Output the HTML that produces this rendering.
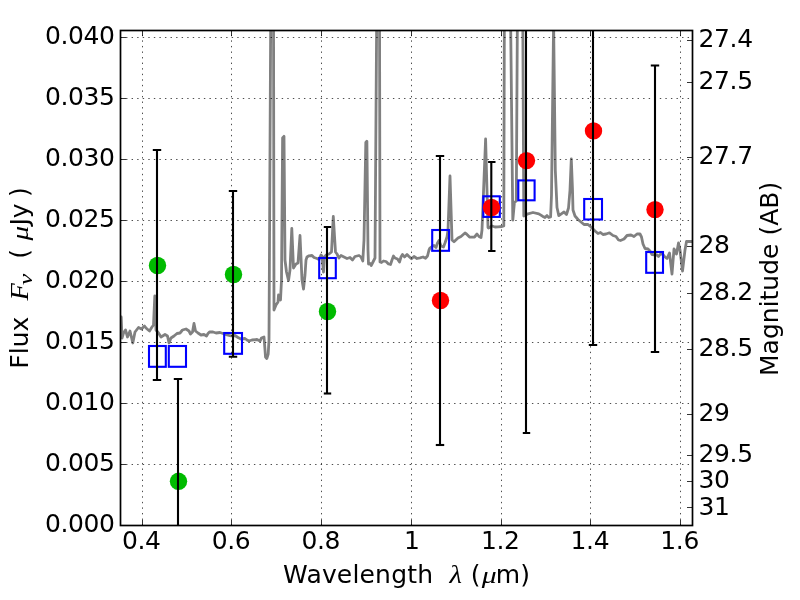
<!DOCTYPE html>
<html lang="en"><head><meta charset="utf-8"><title>Flux vs Wavelength</title>
<style>html,body{margin:0;padding:0;background:#fff;overflow:hidden}svg{display:block}text{font-family:"DejaVu Sans", "Liberation Sans", sans-serif;font-size:25px;fill:#000}.m{font-family:"Liberation Serif", "DejaVu Serif", serif;font-style:italic}</style></head><body>
<svg width="800" height="600" viewBox="0 0 800 600">
<rect width="800" height="600" fill="#fff"/>
<defs><clipPath id="ax"><rect x="120.5" y="30.5" width="572.0" height="495.0"/></clipPath></defs>
<g clip-path="url(#ax)">
<polyline points="120.5,317.0 121.2,317.0 122.0,338.0 123.5,333.0 125.5,330.0 127.5,337.0 130.0,331.0 132.8,343.0 135.0,332.0 138.5,327.5 141.5,329.0 144.5,326.0 146.5,328.5 149.5,331.0 152.0,327.0 153.5,325.0 154.8,296.0 156.0,330.0 158.5,333.0 161.0,337.0 165.0,334.5 167.5,336.0 169.0,343.0 171.0,338.0 174.0,336.0 177.0,333.5 180.0,333.0 182.5,330.0 186.0,329.0 189.0,331.0 190.5,334.0 192.5,332.0 194.0,323.5 195.5,331.0 198.0,333.0 201.0,335.0 204.0,334.5 206.5,336.0 208.0,333.5 209.5,332.0 213.0,332.0 216.0,333.0 220.0,332.5 223.0,333.5 227.0,335.0 231.0,335.8 235.0,335.5 238.0,337.5 241.0,339.0 245.0,338.5 247.0,340.0 249.0,341.0 252.0,340.0 257.0,339.5 260.0,341.0 261.5,338.0 264.0,337.0 265.0,350.0 265.5,357.0 266.8,358.5 268.2,354.0 269.0,340.0 270.8,0.0 272.2,-300.0 273.5,0.0 274.0,310.0 276.0,305.0 278.0,302.0 278.5,295.0 280.5,300.0 281.5,280.0 282.6,138.0 284.0,136.3 285.0,260.0 286.5,272.0 288.5,280.5 290.0,270.0 291.8,228.5 293.5,268.0 296.0,264.0 298.0,263.0 300.0,235.5 302.0,280.0 303.5,289.0 305.0,275.0 306.0,260.0 307.0,257.0 309.0,255.8 312.0,255.5 314.0,257.5 317.0,258.5 319.0,259.5 321.0,255.0 322.0,256.0 323.5,272.0 324.5,257.0 326.0,255.0 329.0,254.0 331.5,252.0 333.3,216.5 335.5,252.0 337.0,254.0 339.0,258.0 341.0,255.5 344.0,257.0 347.0,258.5 350.0,257.5 352.5,260.0 355.0,256.5 359.0,255.5 361.0,257.0 362.8,261.0 364.0,240.0 365.8,142.5 366.9,141.2 368.0,250.0 368.5,264.0 370.0,263.5 371.2,265.5 373.0,262.0 375.0,258.0 376.8,0.0 378.1,-300.0 379.5,0.0 380.0,262.0 381.5,262.5 383.5,261.0 386.0,261.5 388.5,264.0 390.5,264.5 392.0,260.0 393.5,256.0 395.0,258.0 397.5,259.0 399.5,262.0 401.0,257.0 402.5,254.5 404.5,257.0 407.0,254.5 409.0,256.5 411.5,258.8 414.0,256.5 417.0,258.5 420.0,257.8 423.0,257.0 425.5,258.2 427.5,256.0 429.0,250.0 430.0,248.0 432.0,246.5 434.0,245.5 436.0,247.5 437.5,243.0 439.0,240.5 441.0,246.0 443.5,247.0 445.0,243.0 447.0,237.0 448.0,230.0 450.0,176.0 452.0,240.0 454.0,241.7 458.0,238.0 461.0,236.5 465.0,233.0 466.5,234.0 469.5,237.0 472.0,237.2 474.5,237.0 477.0,234.0 479.0,236.5 481.0,237.5 482.0,230.0 485.6,139.0 488.0,227.5 488.5,228.0 492.0,226.0 495.0,227.0 498.0,226.8 502.0,226.5 503.8,226.0 504.4,0.0 507.4,-400.0 510.4,0.0 512.8,220.0 514.4,202.5 516.3,201.0 517.5,0.0 520.0,-400.0 522.7,0.0 523.8,216.0 528.0,213.8 533.0,212.5 538.8,213.8 542.5,216.2 545.0,217.5 547.0,215.6 548.8,217.5 550.6,217.0 551.5,195.0 553.6,22.0 555.3,170.0 557.0,207.5 558.8,215.6 561.3,213.8 564.0,212.0 566.5,214.5 568.5,208.0 570.0,190.0 571.3,159.0 572.5,190.0 573.0,210.0 575.0,216.0 578.0,219.5 581.0,222.0 584.0,224.5 588.0,224.5 591.0,227.0 593.0,229.0 595.0,231.0 598.0,233.5 600.5,232.5 603.0,234.5 606.0,234.0 609.5,232.8 613.0,235.5 616.0,236.5 618.5,240.0 620.5,240.5 624.0,239.0 627.0,235.5 631.0,235.0 634.0,236.5 637.0,234.0 640.0,234.0 641.5,237.0 643.0,244.0 645.0,248.5 648.0,249.0 650.0,251.0 652.0,254.5 657.0,255.0 658.5,256.5 660.5,254.0 663.0,254.5 665.0,257.0 667.0,258.5 669.5,253.0 672.0,274.0 674.0,249.0 676.5,254.0 678.5,243.0 680.0,250.0 682.5,271.0 685.0,250.0 686.5,241.5 693.0,241.5" fill="none" stroke="#808080" stroke-width="2.8" stroke-linejoin="round" stroke-linecap="butt"/>
</g>
<g stroke="#000" stroke-width="0.7" stroke-dasharray="1.4 4.16" fill="none">
<line x1="142.50" y1="525.5" x2="142.50" y2="30.5"/>
<line x1="231.50" y1="525.5" x2="231.50" y2="30.5"/>
<line x1="321.50" y1="525.5" x2="321.50" y2="30.5"/>
<line x1="411.50" y1="525.5" x2="411.50" y2="30.5"/>
<line x1="501.50" y1="525.5" x2="501.50" y2="30.5"/>
<line x1="590.50" y1="525.5" x2="590.50" y2="30.5"/>
<line x1="680.50" y1="525.5" x2="680.50" y2="30.5"/>
<line x1="120.5" y1="464.50" x2="692.5" y2="464.50"/>
<line x1="120.5" y1="403.50" x2="692.5" y2="403.50"/>
<line x1="120.5" y1="342.50" x2="692.5" y2="342.50"/>
<line x1="120.5" y1="281.50" x2="692.5" y2="281.50"/>
<line x1="120.5" y1="220.50" x2="692.5" y2="220.50"/>
<line x1="120.5" y1="159.50" x2="692.5" y2="159.50"/>
<line x1="120.5" y1="98.50" x2="692.5" y2="98.50"/>
<line x1="120.5" y1="37.50" x2="692.5" y2="37.50"/>
</g>
<g clip-path="url(#ax)">
<rect x="149.0" y="346.0" width="16.8" height="20.8" fill="none" stroke="#0000ff" stroke-width="2.1"/>
<rect x="168.8" y="346.0" width="17.2" height="20.8" fill="none" stroke="#0000ff" stroke-width="2.1"/>
<rect x="224.2" y="333.0" width="17.8" height="20.8" fill="none" stroke="#0000ff" stroke-width="2.1"/>
<rect x="319.2" y="258.0" width="16.6" height="20.2" fill="none" stroke="#0000ff" stroke-width="2.1"/>
<rect x="432.2" y="230.0" width="16.8" height="20.8" fill="none" stroke="#0000ff" stroke-width="2.1"/>
<rect x="483.3" y="196.3" width="16.5" height="20.6" fill="none" stroke="#0000ff" stroke-width="2.1"/>
<rect x="518.3" y="180.4" width="16.3" height="19.9" fill="none" stroke="#0000ff" stroke-width="2.1"/>
<rect x="584.2" y="199.0" width="17.8" height="20.5" fill="none" stroke="#0000ff" stroke-width="2.1"/>
<rect x="646.2" y="252.0" width="16.8" height="20.8" fill="none" stroke="#0000ff" stroke-width="2.1"/>
<circle cx="157.5" cy="265.5" r="8.7" fill="#00bb00"/>
<circle cx="178.5" cy="481.3" r="8.7" fill="#00bb00"/>
<circle cx="233.5" cy="274.5" r="8.7" fill="#00bb00"/>
<circle cx="327.5" cy="311.5" r="8.7" fill="#00bb00"/>
<circle cx="440.5" cy="300.5" r="8.7" fill="#ff0000"/>
<circle cx="491.5" cy="207.5" r="8.7" fill="#ff0000"/>
<circle cx="526.5" cy="160.6" r="8.7" fill="#ff0000"/>
<circle cx="593.5" cy="130.9" r="8.7" fill="#ff0000"/>
<circle cx="655.0" cy="209.6" r="8.7" fill="#ff0000"/>
<line x1="157.0" y1="150.0" x2="157.0" y2="380.0" stroke="#000" stroke-width="2.1"/>
<line x1="152.8" y1="150.0" x2="161.2" y2="150.0" stroke="#000" stroke-width="2.1"/>
<line x1="152.8" y1="380.0" x2="161.2" y2="380.0" stroke="#000" stroke-width="2.1"/>
<line x1="178.0" y1="379.0" x2="178.0" y2="600.0" stroke="#000" stroke-width="2.1"/>
<line x1="173.8" y1="379.0" x2="182.2" y2="379.0" stroke="#000" stroke-width="2.1"/>
<line x1="173.8" y1="600.0" x2="182.2" y2="600.0" stroke="#000" stroke-width="2.1"/>
<line x1="233.0" y1="191.0" x2="233.0" y2="356.8" stroke="#000" stroke-width="2.1"/>
<line x1="228.8" y1="191.0" x2="237.2" y2="191.0" stroke="#000" stroke-width="2.1"/>
<line x1="228.8" y1="356.8" x2="237.2" y2="356.8" stroke="#000" stroke-width="2.1"/>
<line x1="327.0" y1="227.0" x2="327.0" y2="393.5" stroke="#000" stroke-width="2.1"/>
<line x1="323.8" y1="227.0" x2="331.2" y2="227.0" stroke="#000" stroke-width="2.1"/>
<line x1="323.8" y1="393.5" x2="331.2" y2="393.5" stroke="#000" stroke-width="2.1"/>
<line x1="440.0" y1="156.0" x2="440.0" y2="445.0" stroke="#000" stroke-width="2.1"/>
<line x1="435.8" y1="156.0" x2="444.2" y2="156.0" stroke="#000" stroke-width="2.1"/>
<line x1="435.8" y1="445.0" x2="444.2" y2="445.0" stroke="#000" stroke-width="2.1"/>
<line x1="491.3" y1="162.0" x2="491.3" y2="251.0" stroke="#000" stroke-width="2.1"/>
<line x1="488.1" y1="162.0" x2="495.5" y2="162.0" stroke="#000" stroke-width="2.1"/>
<line x1="488.1" y1="251.0" x2="495.5" y2="251.0" stroke="#000" stroke-width="2.1"/>
<line x1="526.0" y1="-50.0" x2="526.0" y2="433.0" stroke="#000" stroke-width="2.1"/>
<line x1="522.8" y1="-50.0" x2="530.2" y2="-50.0" stroke="#000" stroke-width="2.1"/>
<line x1="522.8" y1="433.0" x2="530.2" y2="433.0" stroke="#000" stroke-width="2.1"/>
<line x1="593.0" y1="-50.0" x2="593.0" y2="345.0" stroke="#000" stroke-width="2.1"/>
<line x1="588.8" y1="-50.0" x2="597.2" y2="-50.0" stroke="#000" stroke-width="2.1"/>
<line x1="588.8" y1="345.0" x2="597.2" y2="345.0" stroke="#000" stroke-width="2.1"/>
<line x1="655.0" y1="65.5" x2="655.0" y2="352.0" stroke="#000" stroke-width="2.1"/>
<line x1="650.8" y1="65.5" x2="659.2" y2="65.5" stroke="#000" stroke-width="2.1"/>
<line x1="650.8" y1="352.0" x2="659.2" y2="352.0" stroke="#000" stroke-width="2.1"/>
</g>
<g stroke="#000" stroke-width="0.8" fill="none">
<line x1="142.50" y1="525.5" x2="142.50" y2="520.0"/>
<line x1="142.50" y1="30.5" x2="142.50" y2="36.0"/>
<line x1="231.50" y1="525.5" x2="231.50" y2="520.0"/>
<line x1="231.50" y1="30.5" x2="231.50" y2="36.0"/>
<line x1="321.50" y1="525.5" x2="321.50" y2="520.0"/>
<line x1="321.50" y1="30.5" x2="321.50" y2="36.0"/>
<line x1="411.50" y1="525.5" x2="411.50" y2="520.0"/>
<line x1="411.50" y1="30.5" x2="411.50" y2="36.0"/>
<line x1="501.50" y1="525.5" x2="501.50" y2="520.0"/>
<line x1="501.50" y1="30.5" x2="501.50" y2="36.0"/>
<line x1="590.50" y1="525.5" x2="590.50" y2="520.0"/>
<line x1="590.50" y1="30.5" x2="590.50" y2="36.0"/>
<line x1="680.50" y1="525.5" x2="680.50" y2="520.0"/>
<line x1="680.50" y1="30.5" x2="680.50" y2="36.0"/>
<line x1="120.5" y1="525.50" x2="126.0" y2="525.50"/>
<line x1="120.5" y1="464.50" x2="126.0" y2="464.50"/>
<line x1="120.5" y1="403.50" x2="126.0" y2="403.50"/>
<line x1="120.5" y1="342.50" x2="126.0" y2="342.50"/>
<line x1="120.5" y1="281.50" x2="126.0" y2="281.50"/>
<line x1="120.5" y1="220.50" x2="126.0" y2="220.50"/>
<line x1="120.5" y1="159.50" x2="126.0" y2="159.50"/>
<line x1="120.5" y1="98.50" x2="126.0" y2="98.50"/>
<line x1="120.5" y1="37.50" x2="126.0" y2="37.50"/>
<line x1="692.5" y1="40.50" x2="687.0" y2="40.50"/>
<line x1="692.5" y1="82.50" x2="687.0" y2="82.50"/>
<line x1="692.5" y1="157.50" x2="687.0" y2="157.50"/>
<line x1="692.5" y1="246.50" x2="687.0" y2="246.50"/>
<line x1="692.5" y1="293.50" x2="687.0" y2="293.50"/>
<line x1="692.5" y1="349.50" x2="687.0" y2="349.50"/>
<line x1="692.5" y1="414.50" x2="687.0" y2="414.50"/>
<line x1="692.5" y1="455.50" x2="687.0" y2="455.50"/>
<line x1="692.5" y1="481.50" x2="687.0" y2="481.50"/>
<line x1="692.5" y1="507.50" x2="687.0" y2="507.50"/>
</g>
<rect x="120.5" y="30.5" width="572.0" height="495.0" fill="none" stroke="#000" stroke-width="1.7"/>
<g style="letter-spacing:-0.4px">
<text x="141.30" y="549.4" text-anchor="middle">0.4</text>
<text x="231.02" y="549.4" text-anchor="middle">0.6</text>
<text x="320.74" y="549.4" text-anchor="middle">0.8</text>
<text x="411.76" y="549.4" text-anchor="middle">1</text>
<text x="500.18" y="549.4" text-anchor="middle">1.2</text>
<text x="589.90" y="549.4" text-anchor="middle">1.4</text>
<text x="679.62" y="549.4" text-anchor="middle">1.6</text>
<text x="114.6" y="532.20" text-anchor="end">0.000</text>
<text x="114.6" y="471.23" text-anchor="end">0.005</text>
<text x="114.6" y="410.26" text-anchor="end">0.010</text>
<text x="114.6" y="349.29" text-anchor="end">0.015</text>
<text x="114.6" y="288.32" text-anchor="end">0.020</text>
<text x="114.6" y="227.35" text-anchor="end">0.025</text>
<text x="114.6" y="166.38" text-anchor="end">0.030</text>
<text x="114.6" y="105.41" text-anchor="end">0.035</text>
<text x="114.6" y="44.44" text-anchor="end">0.040</text>
<text x="698.6" y="46.75" text-anchor="start">27.4</text>
<text x="698.6" y="89.46" text-anchor="start">27.5</text>
<text x="698.6" y="163.95" text-anchor="start">27.7</text>
<text x="698.6" y="252.85" text-anchor="start">28</text>
<text x="698.6" y="299.85" text-anchor="start">28.2</text>
<text x="698.6" y="355.94" text-anchor="start">28.5</text>
<text x="698.6" y="420.99" text-anchor="start">29</text>
<text x="698.6" y="462.03" text-anchor="start">29.5</text>
<text x="698.6" y="487.93" text-anchor="start">30</text>
<text x="698.6" y="514.57" text-anchor="start">31</text>
</g>
<g>
<text x="283.1" y="583.0" style="letter-spacing:0.18px">Wavelength</text>
<text transform="translate(449.6,583.0) scale(1.15,0.985)" class="m">λ</text>
<text x="470.7" y="583.0">(</text>
<text transform="translate(481.7,583.0) scale(1.19,0.95)" class="m">μ</text>
<text x="495.85" y="583.0">m)</text>
</g>
<g>
<text transform="translate(27.7,368.7) rotate(-90)">Flux</text>
<text transform="translate(28.0,300.6) rotate(-90) scale(1.13,1.04)" class="m">F</text>
<text transform="translate(31.5,285.0) rotate(-90) scale(1.45,1.03)" class="m" style="font-size:17.5px">ν</text>
<text transform="translate(27.7,258.8) rotate(-90)">(</text>
<text transform="translate(27.7,240.5) rotate(-90) scale(1.17,0.95)" class="m">μ</text>
<text transform="translate(27.7,225.5) rotate(-90)">Jy</text>
<text transform="translate(27.7,196.9) rotate(-90)">)</text>
</g>
<text transform="translate(777.5,278.9) rotate(-90)" text-anchor="middle">Magnitude (AB)</text>
</svg></body></html>
